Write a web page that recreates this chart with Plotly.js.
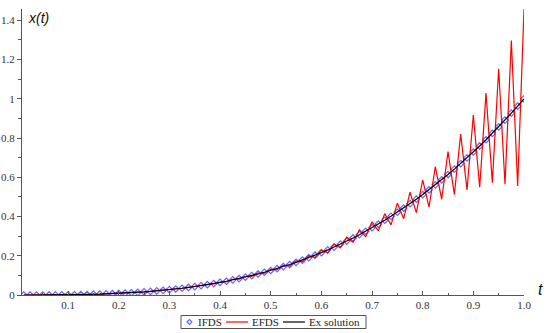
<!DOCTYPE html>
<html>
<head>
<meta charset="utf-8">
<script src="https://cdn.plot.ly/plotly-3.0.1.min.js"></script>
<style>html,body{margin:0;padding:0;background:#fff;}#chart{width:550px;height:333px;}</style>
</head>
<body>
<div id="chart"></div>
<script>
const tValues = [0.0125,0.025,0.0375,0.05,0.0625,0.075,0.0875,0.1,0.1125,0.125,0.1375,0.15,0.1625,0.175,0.1875,0.2,0.2125,0.225,0.2375,0.25,0.2625,0.275,0.2875,0.3,0.3125,0.325,0.3375,0.35,0.3625,0.375,0.3875,0.4,0.4125,0.425,0.4375,0.45,0.4625,0.475,0.4875,0.5,0.5125,0.525,0.5375,0.55,0.5625,0.575,0.5875,0.6,0.6125,0.625,0.6375,0.65,0.6625,0.675,0.6875,0.7,0.7125,0.725,0.7375,0.75,0.7625,0.775,0.7875,0.8,0.8125,0.825,0.8375,0.85,0.8625,0.875,0.8875,0.9,0.9125,0.925,0.9375,0.95,0.9625,0.975,0.9875,1.0];

const exactValues = [0.0000,0.0000,0.0001,0.0001,0.0002,0.0004,0.0007,0.0010,0.0014,0.0020,0.0026,0.0034,0.0043,0.0054,0.0066,0.0080,0.0096,0.0114,0.0134,0.0156,0.0181,0.0208,0.0238,0.0270,0.0305,0.0343,0.0384,0.0429,0.0476,0.0527,0.0582,0.0640,0.0702,0.0768,0.0837,0.0911,0.0989,0.1072,0.1159,0.1250,0.1346,0.1447,0.1553,0.1664,0.1780,0.1901,0.2028,0.2160,0.2298,0.2441,0.2591,0.2746,0.2908,0.3075,0.3250,0.3430,0.3617,0.3811,0.4011,0.4219,0.4433,0.4655,0.4884,0.5120,0.5364,0.5615,0.5874,0.6141,0.6416,0.6699,0.6990,0.7290,0.7598,0.7915,0.8240,0.8574,0.8917,0.9269,0.9630,1.0000];

const ifdsValues = [0.0000,0.0000,0.0001,0.0001,0.0002,0.0004,0.0007,0.0010,0.0014,0.0020,0.0026,0.0034,0.0043,0.0054,0.0066,0.0080,0.0096,0.0114,0.0134,0.0156,0.0181,0.0208,0.0238,0.0270,0.0305,0.0343,0.0384,0.0429,0.0476,0.0527,0.0582,0.0640,0.0702,0.0768,0.0837,0.0911,0.0989,0.1072,0.1159,0.1250,0.1346,0.1447,0.1553,0.1664,0.1780,0.1901,0.2028,0.2160,0.2298,0.2441,0.2591,0.2746,0.2908,0.3075,0.3250,0.3430,0.3617,0.3811,0.4011,0.4219,0.4433,0.4655,0.4884,0.5120,0.5364,0.5615,0.5874,0.6141,0.6416,0.6699,0.6990,0.7290,0.7598,0.7915,0.8240,0.8574,0.8917,0.9269,0.9630,1.0000];

const efdsValues = [0.0000,0.0000,0.0001,0.0001,0.0002,0.0004,0.0007,0.0010,0.0014,0.0020,0.0026,0.0034,0.0043,0.0054,0.0066,0.0080,0.0096,0.0114,0.0134,0.0156,0.0181,0.0208,0.0238,0.0270,0.0305,0.0343,0.0384,0.0429,0.0476,0.0544,0.0563,0.0661,0.0678,0.0794,0.0807,0.0944,0.0952,0.1113,0.1113,0.1302,0.1288,0.1512,0.1480,0.1745,0.1689,0.2003,0.1914,0.2287,0.2156,0.2600,0.2413,0.2945,0.2686,0.3324,0.2970,0.3730,0.3270,0.4150,0.3575,0.4680,0.3890,0.5240,0.4200,0.5870,0.4480,0.6550,0.4880,0.7310,0.5130,0.8200,0.5360,0.9180,0.5490,1.0290,0.5730,1.1530,0.5650,1.2970,0.5560,1.4580];

const xTickVals = [0.1,0.2,0.3,0.4,0.5,0.6,0.7,0.8,0.9,1.0];
const xTickText = ['0.1','0.2','0.3','0.4','0.5','0.6','0.7','0.8','0.9','1.0'];
const yTickVals = [0,0.2,0.4,0.6,0.8,1,1.2,1.4];
const yTickText = ['0','0.2','0.4','0.6','0.8','1','1.2','1.4'];
const seriesNames = ['IFDS', 'EFDS', 'Ex solution'];

const serif = 'Liberation Serif, Times New Roman, serif';
const blue = 'rgb(100,100,255)';
const red = 'rgb(255,0,0)';
const black = 'rgb(0,0,0)';

const traces = [
  {x: tValues, y: ifdsValues, name: seriesNames[0], type: 'scatter', mode: 'markers', showlegend: false,
   marker: {symbol: 'diamond-open', size: 5, color: blue, line: {width: 1.2, color: blue}}},
  {x: tValues, y: efdsValues, name: seriesNames[1], type: 'scatter', mode: 'lines', showlegend: false,
   line: {color: red, width: 1.2}},
  {x: tValues, y: exactValues, name: seriesNames[2], type: 'scatter', mode: 'lines', showlegend: false,
   line: {color: black, width: 1.2}}
];

// manual legend (paper coordinates), since Plotly's legend symbols are wider
const W = 502, H = 286;
const px = v => (v - 22) / W;
const py = v => (295 - v) / H;
const ly = 322;
const legendShapes = [
  {type: 'rect', xref: 'paper', yref: 'paper', x0: px(181), x1: px(366), y0: py(315.5), y1: py(328.5),
   line: {color: '#555', width: 1}, fillcolor: 'rgba(0,0,0,0)'},
  {type: 'path', xref: 'paper', yref: 'paper',
   path: `M ${px(187)} ${py(ly)} L ${px(189.5)} ${py(ly-2.5)} L ${px(192)} ${py(ly)} L ${px(189.5)} ${py(ly+2.5)} Z`,
   line: {color: blue, width: 1.2}},
  {type: 'line', xref: 'paper', yref: 'paper', x0: px(226), x1: px(248), y0: py(ly), y1: py(ly),
   line: {color: red, width: 1.2}},
  {type: 'line', xref: 'paper', yref: 'paper', x0: px(283), x1: px(305), y0: py(ly), y1: py(ly),
   line: {color: black, width: 1.2}}
];
const legendFont = {family: serif, size: 11, color: '#222'};
const legendTexts = [
  {x: px(198), text: seriesNames[0]},
  {x: px(252), text: seriesNames[1]},
  {x: px(309), text: seriesNames[2]}
].map(o => ({xref: 'paper', yref: 'paper', x: o.x, y: py(ly), xanchor: 'left', yanchor: 'middle',
  xshift: -1, text: o.text, showarrow: false, font: legendFont, borderpad: 0}));

const layout = {
  width: 550, height: 333,
  margin: {l: 22, r: 26, t: 9, b: 38},
  paper_bgcolor: '#fff', plot_bgcolor: '#fff',
  showlegend: false,
  xaxis: {range: [0.009, 1.0], showgrid: false, zeroline: false, showline: true,
    linecolor: '#555', linewidth: 1, ticks: 'inside', ticklen: 4, tickcolor: '#555',
    tickvals: xTickVals, ticktext: xTickText, tickfont: {family: serif, size: 11, color: '#333'},
    minor: {dtick: 0.05, tick0: 0, ticks: 'inside', ticklen: 2, tickcolor: '#555'}},
  yaxis: {range: [0, 1.458], showgrid: false, zeroline: false, showline: true,
    linecolor: '#555', linewidth: 1, ticks: 'outside', ticklen: 4, tickcolor: '#555',
    tickvals: yTickVals, ticktext: yTickText, tickfont: {family: serif, size: 11, color: '#333'},
    minor: {dtick: 0.1, tick0: 0, ticks: 'outside', ticklen: 3, tickcolor: '#555'}},
  shapes: legendShapes,
  annotations: [
    {xref: 'paper', yref: 'paper', x: 0.008, y: 0.97, xanchor: 'left', yanchor: 'middle',
     text: '<i>x(t)</i>', showarrow: false, font: {family: 'Liberation Sans, Arial, sans-serif', size: 14, color: '#111'}},
    {xref: 'paper', yref: 'paper', x: 1.024, y: 0.02, xanchor: 'left', yanchor: 'middle',
     text: '<i>t</i>', showarrow: false, font: {family: 'Liberation Sans, Arial, sans-serif', size: 16, color: '#111'}}
  ].concat(legendTexts)
};

Plotly.newPlot('chart', traces, layout, {displayModeBar: false, staticPlot: true});
</script>
</body>
</html>
